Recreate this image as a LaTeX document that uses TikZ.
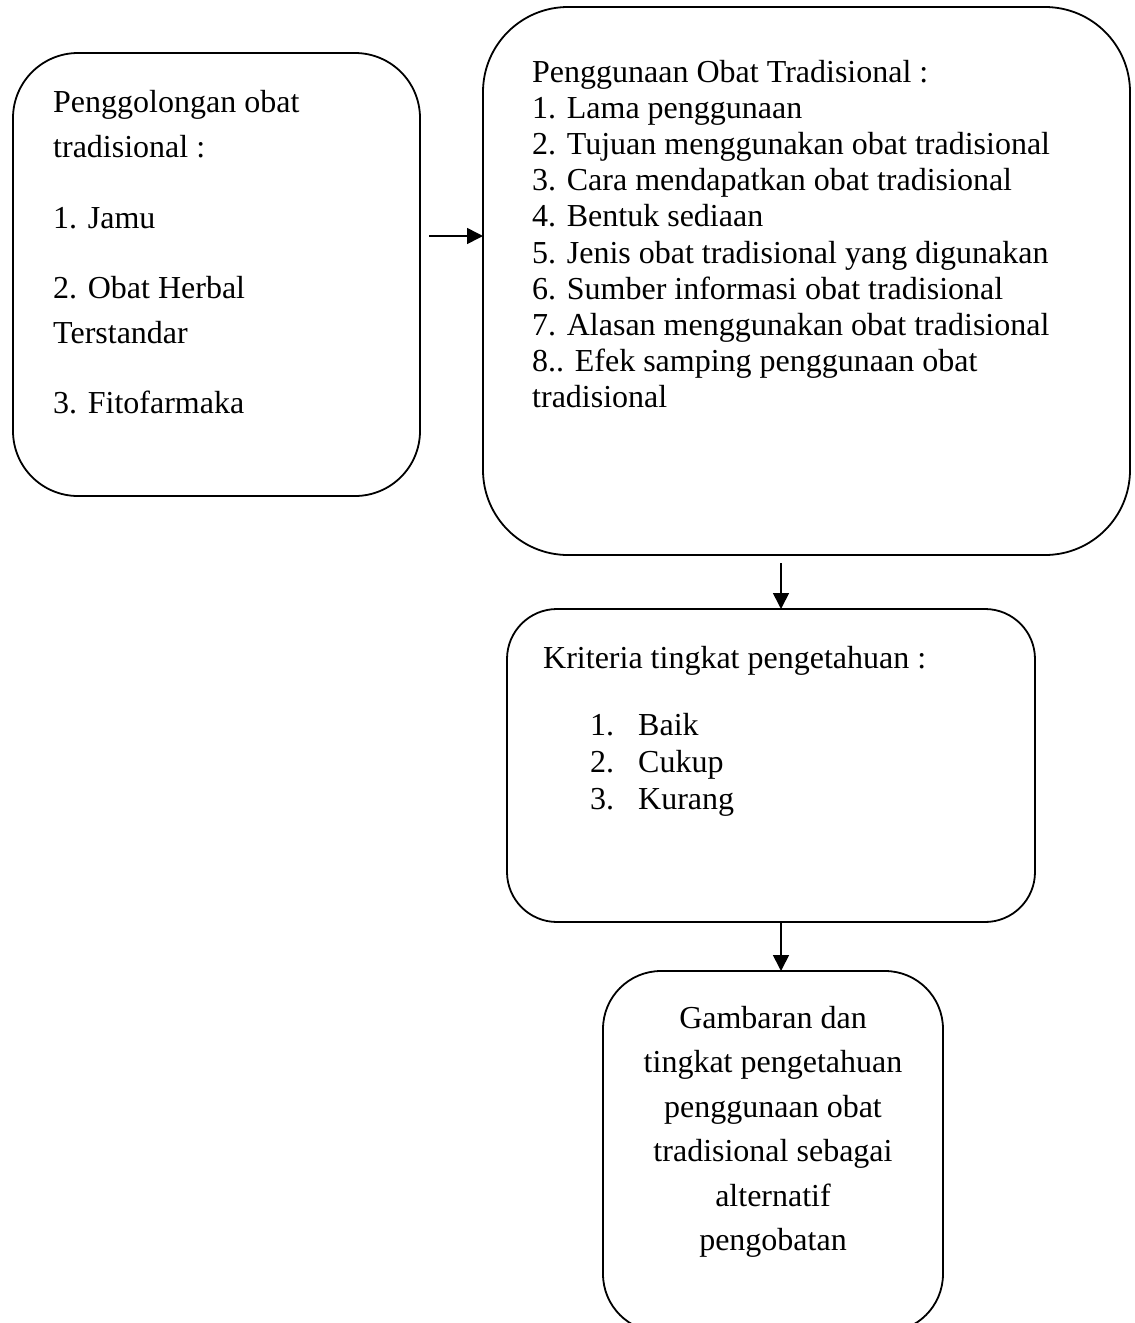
\documentclass[tikz,border=0pt]{standalone}
\usepackage{fontspec}
\setmainfont{Liberation Serif}
\usetikzlibrary{arrows.meta}
\tikzset{
  box/.style={draw, line width=1.8pt, rectangle, anchor=north west, inner sep=0pt, outer sep=0pt},
  txt/.style={font=\fontsize{32}{36}\selectfont, inner sep=0pt, anchor=base west},
  ctxt/.style={txt, anchor=base},
  arr/.style={line width=1.6pt, -{Triangle[length=16pt,width=16pt]}},
}
\begin{document}
\begin{tikzpicture}[x=1pt,y=-1pt]
\useasboundingbox (0,0) rectangle (1135,1323);
\clip (0,0) rectangle (1135,1323);
% boxes
\node[box, rounded corners=65pt, minimum width=407pt, minimum height=443pt] (b1) at (13,53) {};
\node[box, rounded corners=85pt, minimum width=647pt, minimum height=548pt] (b2) at (483,7) {};
\node[box, rounded corners=50pt, minimum width=528pt, minimum height=313pt] (b3) at (507,609) {};
\node[box, rounded corners=58pt, minimum width=340pt, minimum height=361pt] (b4) at (603,971) {};
% box 1 text
\node[txt] (t1a) at (53,112) {Penggolongan obat};
\node[txt] (t1b) at (53,157) {tradisional :};
\node[txt] (t1c) at (53,228) {1. Jamu};
\node[txt] (t1d) at (53,298) {2. Obat Herbal};
\node[txt] (t1e) at (53,343) {Terstandar};
\node[txt] (t1f) at (53,413) {3. Fitofarmaka};
% box 2 text
\node[txt] (t2a) at (532,82) {Penggunaan Obat Tradisional :};
\node[txt] (t2b) at (532,118.2) {1. Lama penggunaan};
\node[txt] (t2c) at (532,154.4) {2. Tujuan menggunakan obat tradisional};
\node[txt] (t2d) at (532,190.6) {3. Cara mendapatkan obat tradisional};
\node[txt] (t2e) at (532,226.8) {4. Bentuk sediaan};
\node[txt] (t2f) at (532,263) {5. Jenis obat tradisional yang digunakan};
\node[txt] (t2g) at (532,299.2) {6. Sumber informasi obat tradisional};
\node[txt] (t2h) at (532,335.4) {7. Alasan menggunakan obat tradisional};
\node[txt] (t2i) at (532,371.6) {8.. Efek samping penggunaan obat};
\node[txt] (t2j) at (532,407.8) {tradisional};
% box 3 text
\node[txt] (t3a) at (543,668) {Kriteria tingkat pengetahuan :};
\node[txt] (t3b) at (590,735) {1.};
\node[txt] (t3c) at (638,735) {Baik};
\node[txt] (t3d) at (590,772) {2.};
\node[txt] (t3e) at (638,772) {Cukup};
\node[txt] (t3f) at (590,809) {3.};
\node[txt] (t3g) at (638,809) {Kurang};
% box 4 text
\node[ctxt] (t4a) at (773,1028) {Gambaran dan};
\node[ctxt] (t4b) at (773,1072.5) {tingkat pengetahuan};
\node[ctxt] (t4c) at (773,1117) {penggunaan obat};
\node[ctxt] (t4d) at (773,1161.5) {tradisional sebagai};
\node[ctxt] (t4e) at (773,1206) {alternatif};
\node[ctxt] (t4f) at (773,1250.5) {pengobatan};
% connectors
\coordinate (a1s) at (429,236);
\draw[arr] (a1s) -- (a1s -| b2.west);
\coordinate (a2s) at (781,563);
\draw[arr] (a2s) -- (a2s |- b3.north);
\coordinate (a3s) at (781,922);
\draw[arr] (a3s) -- (a3s |- b4.north);
\end{tikzpicture}
\end{document}
